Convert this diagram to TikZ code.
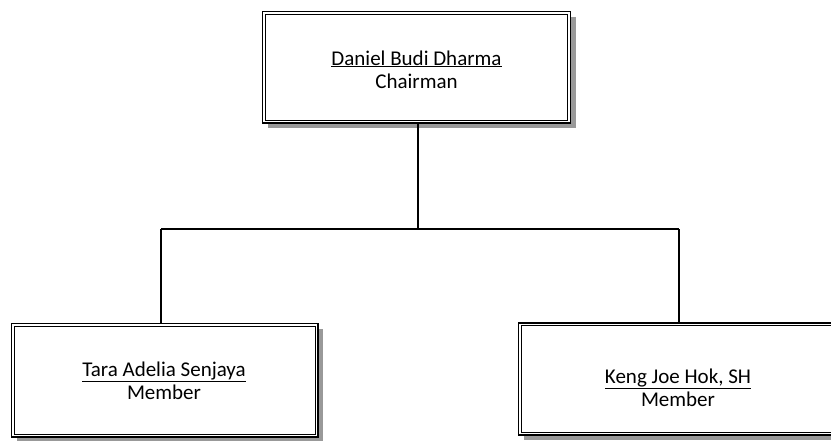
\documentclass[tikz,border=0pt]{standalone}
\usepackage{fontspec}
\setmainfont{Carlito}
\begin{document}
\begin{tikzpicture}[x=1pt,y=-1pt,
  box/.style={draw=black, line width=1.8pt, fill=white, inner sep=0pt,
    preaction={fill=black!40, transform canvas={shift={(5pt,-5pt)}}}},
  lbl/.style={font=\fontsize{21}{23.5}\selectfont, align=center, anchor=base, inner sep=0pt},
  inner/.style={draw=black, line width=0.9pt},
  conn/.style={draw=black, line width=1.6pt}]
\useasboundingbox (0,0) rectangle (831,440);
\clip (0,0) rectangle (831,440);
\node[box, minimum width=308pt, minimum height=111.5pt] (top) at (416.5,67.25) {};
\node[box, minimum width=306.5pt, minimum height=113.5pt] (left) at (164.75,380.25) {};
\node[box, minimum width=319.5pt, minimum height=112pt] (right) at (678.25,379) {};
\foreach \n in {top,left,right}{
  \draw[inner] ([shift={(3.6pt,-3.6pt)}]\n.north west) rectangle ([shift={(-3.6pt,3.6pt)}]\n.south east);
}
\node[lbl] (tn) at (416.5,88.5) {\underline{Daniel Budi Dharma}\\Chairman};
\node[lbl] (ln) at (164,399.5) {\underline{Tara Adelia Senjaya}\\Member};
\node[lbl] (rn) at (678,406.5) {\underline{Keng Joe Hok, SH}\\Member};
\coordinate (j) at (418,229);
\coordinate (jl) at (161,229);
\coordinate (jr) at (679,229);
\draw[conn] (top.south -| j) -- (j);
\draw[conn] (jl) -- (jr);
\draw[conn] (jl) -- (left.north -| jl);
\draw[conn] (jr) -- (right.north -| jr);
\end{tikzpicture}
\end{document}
